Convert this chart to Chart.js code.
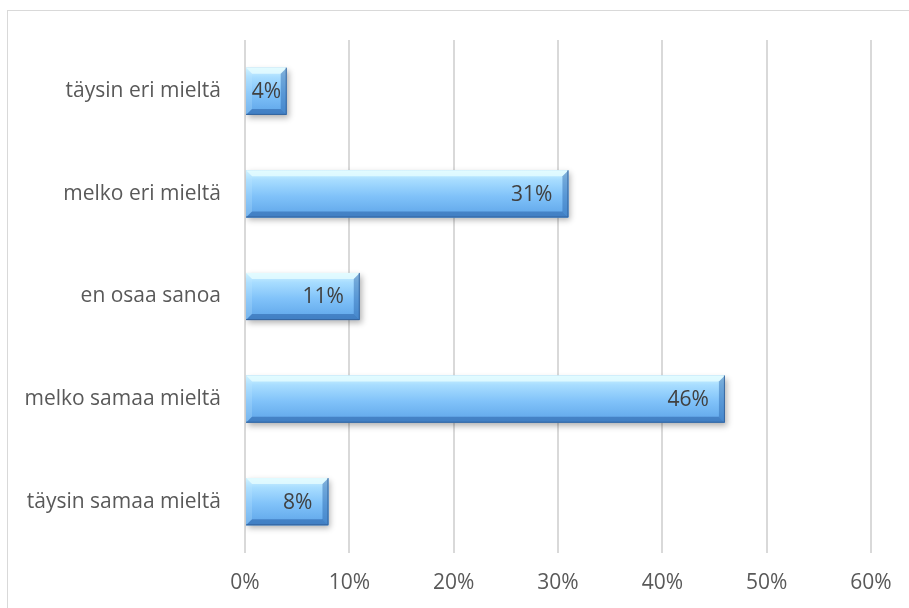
<!DOCTYPE html>
<html>
<head>
<meta charset="utf-8">
<script src="https://cdn.jsdelivr.net/npm/chart.js@4.4.0/dist/chart.umd.min.js"></script>
<style>
  html, body { margin: 0; padding: 0; background: #fff; }
  #wrap { position: relative; width: 909px; height: 608px; overflow: hidden; }
  #frame { position: absolute; left: 7px; top: 10px; width: 960px; height: 700px; border: 1px solid #d9d9d9; box-sizing: border-box; }
  #chart { position: absolute; left: 0; top: 0; }
</style>
</head>
<body>
<div id="wrap">
  <div id="frame"></div>
  <canvas id="chart" width="909" height="608"></canvas>
</div>
<script>
// Vastausvaihtoehdot ylhäältä alas
var categories = [
    'täysin eri mieltä',
    'melko eri mieltä',
    'en osaa sanoa',
    'melko samaa mieltä',
    'täysin samaa mieltä'
];
var shares = [4, 31, 11, 46, 8];
var tickLabels = ['0%', '10%', '20%', '30%', '40%', '50%', '60%'];

var FONT = '"Open Sans", "Noto Sans", sans-serif';

// varjo pylväiden alle
const shadowPlugin = {
    id: 'barShadow',
    beforeDatasetDraw(chart) {
        const ctx = chart.ctx;
        ctx.save();
        ctx.shadowColor = 'rgba(0,0,0,0.3)';
        ctx.shadowBlur = 6;
        ctx.shadowOffsetX = 2;
        ctx.shadowOffsetY = 3;
    },
    afterDatasetDraw(chart) {
        chart.ctx.restore();
    }
};

// liukuväri + viistetyt reunat pylvään päälle
const bevelPlugin = {
    id: 'bevel',
    afterDatasetsDraw(chart) {
        const ctx = chart.ctx;
        const meta = chart.getDatasetMeta(0);
        meta.data.forEach((bar) => {
            const p = bar.getProps(['x', 'y', 'base', 'height'], true);
            const x0 = p.base, x1 = p.x;
            const y0 = p.y - p.height / 2, y1 = p.y + p.height / 2;
            const b = 6;

            const g = ctx.createLinearGradient(0, y0, 0, y1);
            g.addColorStop(0, '#d2f5ff');
            g.addColorStop(0.2, '#a8ddff');
            g.addColorStop(0.55, '#80c2f9');
            g.addColorStop(1, '#5da4e8');
            ctx.save();
            ctx.fillStyle = g;
            ctx.fillRect(x0, y0, x1 - x0, y1 - y0);

            // yläreuna vaalea
            ctx.fillStyle = 'rgba(230,252,255,0.8)';
            ctx.beginPath();
            ctx.moveTo(x0, y0); ctx.lineTo(x1, y0);
            ctx.lineTo(x1 - b, y0 + b); ctx.lineTo(x0 + b, y0 + b);
            ctx.closePath(); ctx.fill();
            // vasen reuna
            ctx.fillStyle = 'rgba(190,232,255,0.25)';
            ctx.beginPath();
            ctx.moveTo(x0, y0); ctx.lineTo(x0 + b, y0 + b);
            ctx.lineTo(x0 + b, y1 - b); ctx.lineTo(x0, y1);
            ctx.closePath(); ctx.fill();
            // oikea reuna tumma
            ctx.fillStyle = 'rgba(40,100,170,0.45)';
            ctx.beginPath();
            ctx.moveTo(x1, y0); ctx.lineTo(x1, y1);
            ctx.lineTo(x1 - b, y1 - b); ctx.lineTo(x1 - b, y0 + b);
            ctx.closePath(); ctx.fill();
            // alareuna tumma
            ctx.fillStyle = 'rgba(35,90,160,0.5)';
            ctx.beginPath();
            ctx.moveTo(x0, y1); ctx.lineTo(x1, y1);
            ctx.lineTo(x1 - b, y1 - b); ctx.lineTo(x0 + b, y1 - b);
            ctx.closePath(); ctx.fill();

            ctx.strokeStyle = 'rgba(50,95,150,0.85)';
            ctx.lineWidth = 1;
            ctx.beginPath();
            ctx.moveTo(x0, y1 - 0.5); ctx.lineTo(x1 - 0.5, y1 - 0.5); ctx.lineTo(x1 - 0.5, y0);
            ctx.stroke();
            ctx.restore();
        });
    }
};

// prosenttiluvut pylvään sisään oikeaan päähän
const valueLabels = {
    id: 'valueLabels',
    afterDatasetsDraw(chart) {
        const ctx = chart.ctx;
        const meta = chart.getDatasetMeta(0);
        ctx.save();
        ctx.font = '21px ' + FONT;
        ctx.fillStyle = '#404040';
        ctx.textBaseline = 'middle';
        meta.data.forEach((bar, i) => {
            const txt = shares[i] + '%';
            const w = ctx.measureText(txt).width;
            const len = bar.x - bar.base;
            if (len < w + 32) {
                ctx.textAlign = 'center';
                ctx.fillText(txt, (bar.x + bar.base) / 2, bar.y + 1);
            } else {
                ctx.textAlign = 'right';
                ctx.fillText(txt, bar.x - 16, bar.y + 1);
            }
        });
        ctx.restore();
    }
};

const config = {
    type: 'bar',
    data: {
        labels: categories,
        datasets: [{
            data: shares,
            backgroundColor: '#6fb3f0',
            borderWidth: 0,
            barPercentage: 0.46,
            categoryPercentage: 1
        }]
    },
    options: {
        indexAxis: 'y',
        responsive: false,
        animation: false,
        layout: { padding: { top: 40, right: 38, bottom: 0, left: 0 } },
        plugins: {
            legend: { display: false },
            tooltip: { enabled: false }
        },
        scales: {
            x: {
                min: 0,
                max: 60,
                ticks: {
                    stepSize: 10,
                    color: '#595959',
                    font: { family: FONT, size: 21 },
                    padding: 17,
                    callback: (v, i) => tickLabels[i]
                },
                grid: { color: '#d9d9d9', lineWidth: 2, drawTicks: false },
                border: { display: false },
                afterFit: (scale) => { scale.height = 55; }
            },
            y: {
                ticks: {
                    color: '#595959',
                    font: { family: FONT, size: 21 },
                    padding: 16
                },
                grid: { display: false },
                border: { display: false },
                afterFit: (scale) => { scale.width = 245; }
            }
        }
    },
    plugins: [shadowPlugin, bevelPlugin, valueLabels]
};

new Chart(document.getElementById('chart'), config);
</script>
</body>
</html>
